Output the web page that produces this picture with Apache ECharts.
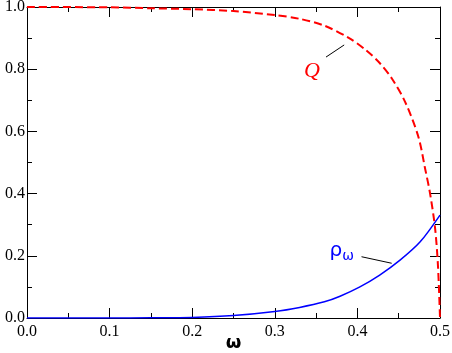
<!DOCTYPE html>
<html>
<head>
<meta charset="utf-8">
<script src="https://cdn.jsdelivr.net/npm/echarts@6/dist/echarts.min.js"></script>
<style>
  html, body { margin: 0; padding: 0; background: #fff; }
  #chart { width: 452px; height: 353px; }
</style>
</head>
<body>
<div id="chart"></div>
<script>
// Q(omega), red dashed
const qOmega = [0, 0.1, 0.15, 0.2, 0.25, 0.3, 0.33, 0.36, 0.39, 0.41, 0.427, 0.4415, 0.4576, 0.4738, 0.482, 0.488, 0.494, 0.4975, 0.5];
const qValues = [1.0, 0.999, 0.996, 0.993, 0.987, 0.974, 0.962, 0.94, 0.90, 0.862, 0.82, 0.771, 0.696, 0.583, 0.48, 0.40, 0.29, 0.17, 0.0];

// rho_omega, blue solid
const rhoOmega = [0, 0.1, 0.15, 0.2, 0.25, 0.3, 0.33, 0.36, 0.379, 0.403, 0.427, 0.4516, 0.476, 0.5];
const rhoValues = [0, 0.0002, 0.0007, 0.002, 0.008, 0.021, 0.034, 0.052, 0.07, 0.10, 0.138, 0.186, 0.245, 0.331];

// annotations, in data space: label centre and leader line ends
const qNote = { at: [0.345, 0.794], from: [0.362, 0.839], to: [0.384, 0.878] };
const rhoNote = { at: [0.381, 0.215], from: [0.405, 0.197], to: [0.4415, 0.176] };

const serif = "'Liberation Serif', 'DejaVu Serif', serif";
const sans = "'DejaVu Sans', sans-serif";

const chart = echarts.init(document.getElementById("chart"));

const tickCommon = {
  axisLine: { show: true, onZero: false, lineStyle: { color: "#000", width: 1 } },
  axisTick: { show: true, inside: true, length: 10, lineStyle: { color: "#000" } },
  minorTick: { show: true, splitNumber: 2, length: 5, lineStyle: { color: "#000" } },
  splitLine: { show: false }
};

const option = {
  animation: false,
  grid: { left: 27, right: 12, top: 7, bottom: 35, outerBoundsMode: "none" },
  xAxis: [
    Object.assign({
      type: "value", min: 0, max: 0.5, interval: 0.1,
      name: "ω", nameLocation: "middle", nameGap: 16, nameMoveOverlap: false,
      nameTextStyle: { fontFamily: sans, fontWeight: "bold", fontSize: 18, color: "#000", verticalAlign: "top" },
      axisLabel: { fontFamily: serif, fontSize: 16, color: "#000", margin: 6, formatter: v => v.toFixed(1) }
    }, tickCommon),
    Object.assign({
      type: "value", min: 0, max: 0.5, interval: 0.1, position: "top",
      axisLabel: { show: false }
    }, tickCommon)
  ],
  yAxis: [
    Object.assign({
      type: "value", min: 0, max: 1, interval: 0.2,
      axisLabel: { fontFamily: serif, fontSize: 16, color: "#000", margin: 2, formatter: v => v.toFixed(1) }
    }, tickCommon),
    Object.assign({
      type: "value", min: 0, max: 1, interval: 0.2, position: "right",
      axisLabel: { show: false }
    }, tickCommon)
  ],
  series: [
    {
      type: "line", name: "Q", showSymbol: false, smooth: 0.3,
      data: qOmega.map((w, i) => [w, qValues[i]]),
      lineStyle: { color: "#ff0000", width: 2, type: [8, 4] }
    },
    {
      type: "line", name: "rho", showSymbol: false, smooth: 0.3,
      data: rhoOmega.map((w, i) => [w, rhoValues[i]]),
      lineStyle: { color: "#0000ff", width: 1.5 }
    }
  ]
};

chart.setOption(option);

// annotations placed from data coordinates
const px = p => chart.convertToPixel({ xAxisIndex: 0, yAxisIndex: 0 }, p);
function leader(note) {
  const a = px(note.from), b = px(note.to);
  return { type: "line", shape: { x1: a[0], y1: a[1], x2: b[0], y2: b[1] }, style: { stroke: "#000", lineWidth: 1 }, z: 10 };
}
const qAt = px(qNote.at), rAt = px(rhoNote.at);
chart.setOption({
  graphic: [
    leader(qNote),
    leader(rhoNote),
    {
      type: "text", x: qAt[0], y: qAt[1], z: 10,
      style: { text: "Q", fontFamily: serif, fontStyle: "italic", fontSize: 22, fill: "#ff0000", align: "center", verticalAlign: "middle" }
    },
    {
      type: "text", x: rAt[0], y: rAt[1], z: 10,
      style: {
        text: "{b|ρ}{s|ω}", align: "center", verticalAlign: "middle",
        rich: {
          b: { fontFamily: sans, fontSize: 20, fill: "#0000ff", color: "#0000ff" },
          s: { fontFamily: sans, fontSize: 14, fill: "#0000ff", color: "#0000ff", padding: [10, 0, 0, 0] }
        }
      }
    }
  ]
});
</script>
</body>
</html>
